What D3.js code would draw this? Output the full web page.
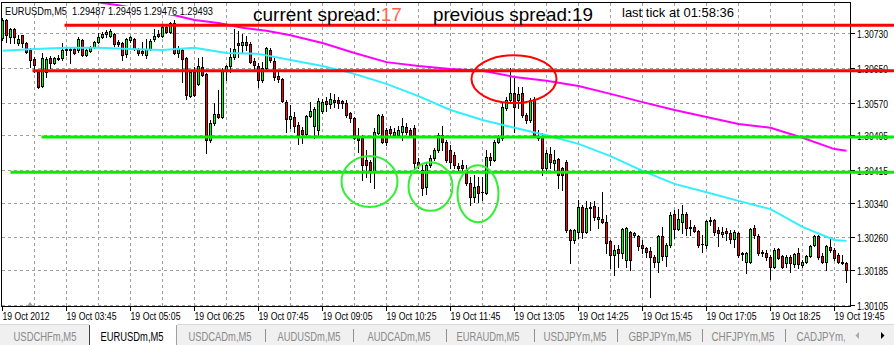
<!DOCTYPE html>
<html>
<head>
<meta charset="utf-8">
<script src="https://cdn.jsdelivr.net/npm/d3@7"></script>
<style>
  body { margin: 0; background: #fff; }
  text { font-family: "Liberation Sans", Arial, sans-serif; }
</style>
</head>
<body>
<div id="chart"></div>
<script>
// EURUSDm M5, 19 Oct 2012, 02:25 .. 20:00 (212 bars)
var open = [
  1.30719,1.30760,1.30721,1.30739,1.30707,1.30725,1.30707,1.30691,1.30670,1.30640,
  1.30608,1.30640,1.30673,1.30661,1.30670,1.30673,1.30691,1.30691,1.30693,1.30691,
  1.30714,1.30679,1.30689,1.30698,1.30709,1.30721,1.30728,1.30723,1.30728,1.30709,
  1.30707,1.30682,1.30714,1.30716,1.30693,1.30689,1.30679,1.30693,1.30716,1.30728,
  1.30723,1.30744,1.30732,1.30753,1.30684,1.30691,1.30673,1.30585,1.30640,1.30613,
  1.30652,1.30636,1.30484,1.30523,1.30544,1.30537,1.30645,1.30654,1.30675,1.30707,
  1.30702,1.30709,1.30705,1.30666,1.30654,1.30622,1.30650,1.30691,1.30666,1.30631,
  1.30624,1.30571,1.30532,1.30537,1.30518,1.30507,1.30498,1.30539,1.30516,1.30507,
  1.30551,1.30574,1.30567,1.30576,1.30576,1.30574,1.30569,1.30546,1.30535,1.30491,
  1.30489,1.30438,1.30433,1.30410,1.30500,1.30539,1.30507,1.30509,1.30495,1.30495,
  1.30502,1.30514,1.30507,1.30512,1.30433,1.30415,1.30376,1.30426,1.30443,1.30461,
  1.30495,1.30479,1.30461,1.30449,1.30424,1.30426,1.30415,1.30385,1.30353,1.30378,
  1.30364,1.30362,1.30445,1.30438,1.30479,1.30489,1.30558,1.30576,1.30592,1.30576,
  1.30592,1.30541,1.30530,1.30578,1.30493,1.30493,1.30420,1.30452,1.30431,1.30440,
  1.30420,1.30433,1.30277,1.30254,1.30272,1.30330,1.30272,1.30328,1.30332,1.30302,
  1.30302,1.30295,1.30252,1.30219,1.30233,1.30224,1.30208,1.30272,1.30265,1.30263,
  1.30242,1.30236,1.30229,1.30215,1.30203,1.30263,1.30217,1.30242,1.30314,1.30279,
  1.30295,1.30314,1.30284,1.30284,1.30275,1.30245,1.30242,1.30298,1.30300,1.30277,
  1.30268,1.30275,1.30270,1.30256,1.30270,1.30224,1.30203,1.30203,1.30282,1.30263,
  1.30226,1.30224,1.30215,1.30192,1.30233,1.30217,1.30201,1.30215,1.30199,1.30224,
  1.30196,1.30203,1.30217,1.30242,1.30263,1.30217,1.30203,1.30238,1.30231,1.30219,
  1.30203,1.30201
];
var high = [
  1.30765,1.30762,1.30742,1.30742,1.30725,1.30725,1.30709,1.30696,1.30675,1.30645,
  1.30684,1.30675,1.30677,1.30675,1.30679,1.30707,1.30696,1.30696,1.30698,1.30721,
  1.30716,1.30693,1.30700,1.30712,1.30730,1.30732,1.30737,1.30739,1.30730,1.30714,
  1.30709,1.30719,1.30723,1.30719,1.30696,1.30709,1.30716,1.30716,1.30739,1.30737,
  1.30746,1.30746,1.30755,1.30760,1.30700,1.30696,1.30675,1.30645,1.30652,1.30673,
  1.30675,1.30638,1.30530,1.30569,1.30599,1.30650,1.30656,1.30696,1.30739,1.30735,
  1.30728,1.30723,1.30709,1.30673,1.30661,1.30663,1.30698,1.30696,1.30673,1.30640,
  1.30627,1.30576,1.30564,1.30548,1.30525,1.30514,1.30541,1.30571,1.30560,1.30581,
  1.30578,1.30583,1.30592,1.30590,1.30583,1.30576,1.30576,1.30548,1.30537,1.30512,
  1.30495,1.30461,1.30438,1.30512,1.30544,1.30544,1.30512,1.30516,1.30512,1.30516,
  1.30535,1.30523,1.30512,1.30518,1.30443,1.30426,1.30431,1.30449,1.30466,1.30500,
  1.30516,1.30484,1.30472,1.30456,1.30431,1.30438,1.30426,1.30399,1.30403,1.30399,
  1.30399,1.30461,1.30454,1.30484,1.30495,1.30569,1.30583,1.30650,1.30629,1.30606,
  1.30606,1.30546,1.30581,1.30583,1.30507,1.30500,1.30461,1.30468,1.30461,1.30443,
  1.30422,1.30438,1.30279,1.30279,1.30346,1.30334,1.30344,1.30341,1.30344,1.30330,
  1.30364,1.30311,1.30254,1.30242,1.30242,1.30282,1.30284,1.30275,1.30272,1.30265,
  1.30254,1.30238,1.30238,1.30219,1.30265,1.30284,1.30247,1.30318,1.30323,1.30325,
  1.30334,1.30318,1.30300,1.30288,1.30277,1.30265,1.30300,1.30307,1.30302,1.30284,
  1.30284,1.30282,1.30277,1.30277,1.30272,1.30226,1.30226,1.30282,1.30288,1.30268,
  1.30231,1.30231,1.30219,1.30236,1.30236,1.30219,1.30219,1.30219,1.30224,1.30236,
  1.30208,1.30219,1.30242,1.30265,1.30265,1.30224,1.30242,1.30259,1.30236,1.30224,
  1.30219,1.30203
];
var low = [
  1.30714,1.30709,1.30707,1.30707,1.30702,1.30698,1.30684,1.30652,1.30640,1.30604,
  1.30606,1.30629,1.30650,1.30659,1.30668,1.30668,1.30679,1.30661,1.30682,1.30686,
  1.30677,1.30677,1.30686,1.30696,1.30707,1.30719,1.30721,1.30721,1.30700,1.30700,
  1.30668,1.30675,1.30709,1.30691,1.30679,1.30679,1.30673,1.30691,1.30712,1.30721,
  1.30721,1.30730,1.30730,1.30682,1.30675,1.30617,1.30578,1.30583,1.30585,1.30610,
  1.30631,1.30454,1.30479,1.30518,1.30535,1.30535,1.30622,1.30640,1.30670,1.30675,
  1.30684,1.30691,1.30661,1.30645,1.30606,1.30617,1.30647,1.30663,1.30622,1.30617,
  1.30571,1.30502,1.30512,1.30502,1.30475,1.30477,1.30495,1.30537,1.30489,1.30491,
  1.30546,1.30551,1.30558,1.30560,1.30558,1.30558,1.30537,1.30525,1.30486,1.30456,
  1.30392,1.30399,1.30387,1.30374,1.30498,1.30477,1.30472,1.30495,1.30491,1.30491,
  1.30484,1.30498,1.30491,1.30415,1.30420,1.30357,1.30360,1.30422,1.30438,1.30456,
  1.30461,1.30433,1.30420,1.30420,1.30415,1.30415,1.30380,1.30334,1.30341,1.30341,
  1.30346,1.30360,1.30426,1.30436,1.30477,1.30484,1.30553,1.30569,1.30502,1.30558,
  1.30537,1.30523,1.30525,1.30491,1.30484,1.30403,1.30415,1.30420,1.30415,1.30374,
  1.30369,1.30272,1.30201,1.30247,1.30259,1.30259,1.30270,1.30277,1.30300,1.30282,
  1.30293,1.30224,1.30190,1.30173,1.30192,1.30213,1.30192,1.30185,1.30261,1.30231,
  1.30224,1.30215,1.30123,1.30192,1.30180,1.30208,1.30194,1.30238,1.30259,1.30277,
  1.30270,1.30265,1.30265,1.30272,1.30238,1.30226,1.30236,1.30288,1.30265,1.30240,
  1.30261,1.30254,1.30247,1.30238,1.30215,1.30208,1.30178,1.30201,1.30259,1.30219,
  1.30217,1.30208,1.30164,1.30190,1.30210,1.30190,1.30192,1.30180,1.30192,1.30190,
  1.30192,1.30201,1.30215,1.30240,1.30210,1.30201,1.30185,1.30226,1.30208,1.30201,
  1.30199,1.30157
];
var close = [
  1.30760,1.30725,1.30739,1.30721,1.30716,1.30707,1.30686,1.30668,1.30656,1.30606,
  1.30673,1.30670,1.30661,1.30673,1.30673,1.30691,1.30693,1.30693,1.30684,1.30716,
  1.30679,1.30691,1.30698,1.30709,1.30721,1.30728,1.30732,1.30735,1.30705,1.30705,
  1.30679,1.30716,1.30721,1.30693,1.30684,1.30684,1.30693,1.30712,1.30723,1.30723,
  1.30744,1.30732,1.30753,1.30684,1.30696,1.30670,1.30587,1.30640,1.30587,1.30654,
  1.30633,1.30484,1.30523,1.30544,1.30537,1.30645,1.30654,1.30675,1.30693,1.30702,
  1.30709,1.30702,1.30663,1.30656,1.30622,1.30650,1.30696,1.30668,1.30629,1.30624,
  1.30574,1.30532,1.30539,1.30516,1.30495,1.30498,1.30539,1.30551,1.30555,1.30574,
  1.30571,1.30567,1.30578,1.30571,1.30569,1.30569,1.30541,1.30535,1.30489,1.30484,
  1.30426,1.30426,1.30415,1.30502,1.30541,1.30479,1.30479,1.30500,1.30502,1.30507,
  1.30516,1.30502,1.30495,1.30431,1.30426,1.30374,1.30426,1.30443,1.30461,1.30495,
  1.30479,1.30438,1.30433,1.30426,1.30420,1.30420,1.30385,1.30353,1.30376,1.30362,
  1.30364,1.30445,1.30438,1.30479,1.30489,1.30560,1.30576,1.30592,1.30560,1.30590,
  1.30541,1.30530,1.30576,1.30495,1.30489,1.30420,1.30454,1.30433,1.30438,1.30403,
  1.30403,1.30277,1.30254,1.30277,1.30330,1.30272,1.30328,1.30330,1.30307,1.30307,
  1.30295,1.30247,1.30219,1.30231,1.30224,1.30279,1.30282,1.30208,1.30270,1.30240,
  1.30236,1.30226,1.30215,1.30203,1.30263,1.30217,1.30242,1.30311,1.30279,1.30302,
  1.30314,1.30282,1.30282,1.30275,1.30242,1.30245,1.30298,1.30300,1.30272,1.30270,
  1.30272,1.30270,1.30256,1.30272,1.30219,1.30222,1.30224,1.30279,1.30265,1.30224,
  1.30224,1.30215,1.30192,1.30231,1.30213,1.30192,1.30215,1.30201,1.30222,1.30199,
  1.30203,1.30217,1.30240,1.30263,1.30215,1.30203,1.30240,1.30231,1.30213,1.30203,
  1.30201,1.30185
];

// moving averages (read at these bars)
var fastBars = [0,8,16,24,32,40,48,56,64,72,80,88,96,104,112,120,128,136,144,152,160,168,176,184,192,200,208,211];
var fastMA = [1.30689,1.30693,1.30696,1.30696,1.30693,1.30691,1.30696,1.30684,1.30682,1.30668,1.30654,1.30636,1.30613,1.30585,
  1.30553,1.30530,1.30512,1.30495,1.30475,1.30447,1.30413,1.30383,1.30364,1.30344,1.30325,1.30284,1.30254,1.30252];
var slowBars = [20,25,29,43,48,54,60,66,72,80,88,96,104,112,120,128,136,144,152,160,168,176,184,192,200,208,211];
var slowMA = [1.30808,1.30799,1.30794,1.30771,1.30760,1.30753,1.30742,1.30735,1.30725,1.30707,1.30684,1.30663,1.30654,1.30647,
  1.30643,1.30629,1.30620,1.30608,1.30590,1.30571,1.30553,1.30537,1.30521,1.30512,1.30489,1.30463,1.30459];

// hand drawn levels and ovals
var redLevels = [1.30748, 1.30643];
var redLevelStart = [15.5, 7.5];
var greenLevels = [1.30491, 1.30410];
var greenLevelStart = [9.75, 2];
var redOvalBars = [117.25, 138.5];
var redOvalPrices = [1.30679, 1.30569];
var greenOvalFrom = [84.75, 101.5, 113.75];
var greenOvalTo = [98.75, 112.5, 124];
var greenOvalTop = [1.30447, 1.30433, 1.30426];
var greenOvalBottom = [1.30330, 1.30321, 1.30295];

var priceTicks = [1.30730, 1.30650, 1.30570, 1.30495, 1.30415, 1.30340, 1.30260, 1.30185, 1.30105];
var timeLabels = ["19 Oct 2012","19 Oct 03:45","19 Oct 05:05","19 Oct 06:25","19 Oct 07:45","19 Oct 09:05","19 Oct 10:25",
  "19 Oct 11:45","19 Oct 13:05","19 Oct 14:25","19 Oct 15:45","19 Oct 17:05","19 Oct 18:25","19 Oct 19:45"];
var header = "EURUSDm,M5  1.29487 1.29495 1.29476 1.29493";
var tabs = ["USDCHFm,M5","EURUSDm,M5","USDCADm,M5","AUDUSDm,M5","AUDCADm,M5","EURAUDm,M5","USDJPYm,M5","GBPJPYm,M5","CHFJPYm,M5","CADJPYm,M5"];

width = 894
height = 345
// plot box (window.top is reserved, so prefixed names)
var pLeft = 1, pRight = 850, pTop = 2, pBottom = 306;

var svg = d3.select("#chart")
  .append("svg")
  .attr("width", width)
  .attr("height", height)
  .style("display", "block")

svg.append("rect").attr("width", width).attr("height", height).attr("fill", "#fff")

var x = d3.scaleLinear().domain([0, 211]).range([2.5, 846.5]);
var y = d3.scaleLinear().domain([1.30105, 1.30730]).range([304.8, 33]);
function py(v) { return Math.round(y(v)); }

svg.append("clipPath").attr("id", "plot")
  .append("rect").attr("x", pLeft + 1).attr("y", pTop + 1).attr("width", pRight - pLeft - 1).attr("height", pBottom - pTop - 1)

// grid
var grid = svg.append("g").attr("stroke", "#a0a0a0").attr("stroke-dasharray", "3,3").attr("shape-rendering", "crispEdges")
grid.selectAll("line.h").data(priceTicks).enter().append("line")
  .attr("x1", pLeft + 1).attr("x2", pRight)
  .attr("y1", d => py(d) + 0.5).attr("y2", d => py(d) + 0.5)
var gridBars = d3.range(8, 212, 8)
grid.selectAll("line.v").data(gridBars).enter().append("line")
  .attr("x1", d => x(d)).attr("x2", d => x(d))
  .attr("y1", pTop + 1).attr("y2", pBottom)

// candles
var bars = d3.range(open.length).map(function(i) {
  return { i: i, o: open[i], h: high[i], l: low[i], c: close[i] };
});
var plot = svg.append("g").attr("clip-path", "url(#plot)")
var candles = plot.append("g").attr("shape-rendering", "crispEdges")
candles.selectAll("line.wick").data(bars).enter().append("line")
  .attr("x1", d => x(d.i)).attr("x2", d => x(d.i))
  .attr("y1", d => py(d.h)).attr("y2", d => py(d.l) + 1)
  .attr("stroke", "#000")
candles.selectAll("rect.body").data(bars.filter(d => Math.abs(py(d.o) - py(d.c)) >= 1)).enter().append("rect")
  .attr("x", d => x(d.i) - 1)
  .attr("width", 2)
  .attr("y", d => Math.min(py(d.o), py(d.c)) + 0.5)
  .attr("height", d => Math.abs(py(d.o) - py(d.c)))
  .attr("fill", d => d.c > d.o ? "#00ff00" : "#ff0000")
  .attr("stroke", "#000")
candles.selectAll("line.doji").data(bars.filter(d => Math.abs(py(d.o) - py(d.c)) < 1)).enter().append("line")
  .attr("x1", d => x(d.i) - 1.5).attr("x2", d => x(d.i) + 1.5)
  .attr("y1", d => py(d.c) + 0.5).attr("y2", d => py(d.c) + 0.5)
  .attr("stroke", "#000")

// moving averages
var line = d3.line().x(d => x(d[0])).y(d => y(d[1]))
plot.append("path").datum(d3.zip(fastBars, fastMA))
  .attr("d", line).attr("fill", "none").attr("stroke", "#33eeff").attr("stroke-width", 2)
plot.append("path").datum(d3.zip(slowBars, slowMA))
  .attr("d", line).attr("fill", "none").attr("stroke", "#ff00ff").attr("stroke-width", 2)

// header (the terminal draws it on an opaque box)
svg.append("rect").attr("x", pLeft + 1).attr("y", 6).attr("width", 214).attr("height", 9).attr("fill", "#fff")

// frame
var frame = svg.append("g").attr("stroke", "#000").attr("shape-rendering", "crispEdges")
frame.append("line").attr("x1", pLeft + 0.5).attr("x2", pLeft + 0.5).attr("y1", pTop).attr("y2", pBottom + 1)
frame.append("line").attr("x1", pLeft).attr("x2", pRight + 1).attr("y1", pTop + 0.5).attr("y2", pTop + 0.5)
frame.append("line").attr("x1", pRight + 0.5).attr("x2", pRight + 0.5).attr("y1", pTop).attr("y2", pBottom + 1)
frame.append("line").attr("x1", pLeft).attr("x2", pRight + 1).attr("y1", pBottom + 0.5).attr("y2", pBottom + 0.5)

// price axis
var pa = svg.append("g")
pa.selectAll("line").data(priceTicks).enter().append("line")
  .attr("x1", pRight + 1).attr("x2", pRight + 5)
  .attr("y1", d => py(d) + 0.5).attr("y2", d => py(d) + 0.5)
  .attr("stroke", "#000").attr("shape-rendering", "crispEdges")
pa.selectAll("text").data(priceTicks).enter().append("text")
  .attr("x", pRight + 7).attr("y", d => py(d) + 4.5)
  .attr("font-size", 10.5).attr("textLength", 31).attr("lengthAdjust", "spacingAndGlyphs")
  .attr("fill", "#000")
  .text(d => d.toFixed(5))

// time axis
var ta = svg.append("g")
ta.selectAll("line").data(timeLabels).enter().append("line")
  .attr("x1", (d, k) => x(k * 16)).attr("x2", (d, k) => x(k * 16))
  .attr("y1", pBottom + 1).attr("y2", pBottom + 5)
  .attr("stroke", "#000").attr("shape-rendering", "crispEdges")
ta.selectAll("text").data(timeLabels).enter().append("text")
  .attr("x", (d, k) => x(k * 16)).attr("y", 320)
  .attr("font-size", 10.5).attr("textLength", d => d.length > 11 ? 50 : 47).attr("lengthAdjust", "spacingAndGlyphs")
  .attr("fill", "#000")
  .text(d => d)

// little shift marker
svg.append("path").attr("d", "M27,306L33,306L30,302Z").attr("fill", "#a0a0a0")

// horizontal levels, they run to the window edge
svg.selectAll("line.red").data(redLevels).enter().append("line")
  .attr("x1", (d, k) => x(redLevelStart[k])).attr("x2", width)
  .attr("y1", d => y(d)).attr("y2", d => y(d))
  .attr("stroke", "#ff0000").attr("stroke-width", 3)
svg.selectAll("line.green").data(greenLevels).enter().append("line")
  .attr("x1", (d, k) => x(greenLevelStart[k])).attr("x2", width)
  .attr("y1", d => y(d)).attr("y2", d => y(d))
  .attr("stroke", "#00f000").attr("stroke-width", 3)

// ovals
svg.append("ellipse")
  .attr("cx", (x(redOvalBars[0]) + x(redOvalBars[1])) / 2)
  .attr("cy", (y(redOvalPrices[0]) + y(redOvalPrices[1])) / 2)
  .attr("rx", (x(redOvalBars[1]) - x(redOvalBars[0])) / 2)
  .attr("ry", (y(redOvalPrices[1]) - y(redOvalPrices[0])) / 2)
  .attr("fill", "none").attr("stroke", "#ff0000").attr("stroke-width", 2)
svg.selectAll("ellipse.g").data(greenOvalFrom).enter().append("ellipse")
  .attr("cx", (d, k) => (x(d) + x(greenOvalTo[k])) / 2)
  .attr("cy", (d, k) => (y(greenOvalTop[k]) + y(greenOvalBottom[k])) / 2)
  .attr("rx", (d, k) => (x(greenOvalTo[k]) - x(d)) / 2)
  .attr("ry", (d, k) => (y(greenOvalBottom[k]) - y(greenOvalTop[k])) / 2)
  .attr("fill", "none").attr("stroke", "#33ee33").attr("stroke-width", 2)

// header texts
svg.append("text").attr("x", 5).attr("y", 14.5).attr("font-size", 11)
  .style("white-space", "pre")
  .attr("textLength", 208).attr("lengthAdjust", "spacingAndGlyphs").text(header)

var spread = svg.append("text").attr("x", 253).attr("y", 21).attr("font-size", 19).attr("fill", "#000")
spread.append("tspan").text("current spread:")
spread.append("tspan").attr("fill", "#ff6347").text("17")
svg.append("text").attr("x", 433).attr("y", 21).attr("font-size", 19)
  .attr("textLength", 160).attr("lengthAdjust", "spacingAndGlyphs").text("previous spread:19")
svg.append("text").attr("x", 622).attr("y", 17).attr("font-size", 13).text("last tick at 01:58:36")

// tab bar
var tb = svg.append("g")
tb.append("rect").attr("x", 0).attr("y", 324).attr("width", width).attr("height", 21).attr("fill", "#f0f0f0")
tb.append("line").attr("x1", 0).attr("x2", width).attr("y1", 324.5).attr("y2", 324.5).attr("stroke", "#d8d8d8")
tb.append("rect").attr("x", 89).attr("y", 324).attr("width", 88).attr("height", 21).attr("fill", "#fff")
tb.append("line").attr("x1", 89.5).attr("x2", 89.5).attr("y1", 325).attr("y2", 345).attr("stroke", "#404040")
tb.append("line").attr("x1", 176.5).attr("x2", 176.5).attr("y1", 325).attr("y2", 345).attr("stroke", "#a0a0a0")
var tabCenters = [45, 132, 220, 309, 399, 488, 575, 660, 743, 828]
var sepX = [265, 353, 446, 534, 617, 702, 785]
tb.selectAll("line.sep").data(sepX).enter().append("line")
  .attr("x1", d => d + 0.5).attr("x2", d => d + 0.5).attr("y1", 329).attr("y2", 342)
  .attr("stroke", "#909090")
svg.append("clipPath").attr("id", "tabclip").append("rect").attr("x", 0).attr("y", 324).attr("width", 845).attr("height", 21)
tb.append("g").attr("clip-path", "url(#tabclip)")
  .selectAll("text").data(tabs).enter().append("text")
  .attr("x", (d, k) => tabCenters[k]).attr("y", 341).attr("text-anchor", "middle")
  .attr("font-size", 12).attr("textLength", 63).attr("lengthAdjust", "spacingAndGlyphs")
  .attr("fill", (d, k) => k == 1 ? "#000" : "#8a8a8a")
  .text(d => d)
tb.append("path").attr("d", "M859,332L859,339L855.5,335.5Z").attr("fill", "#a8a8a8")
tb.append("path").attr("d", "M881,332L881,339L884.5,335.5Z").attr("fill", "#000")
</script>
</body>
</html>
